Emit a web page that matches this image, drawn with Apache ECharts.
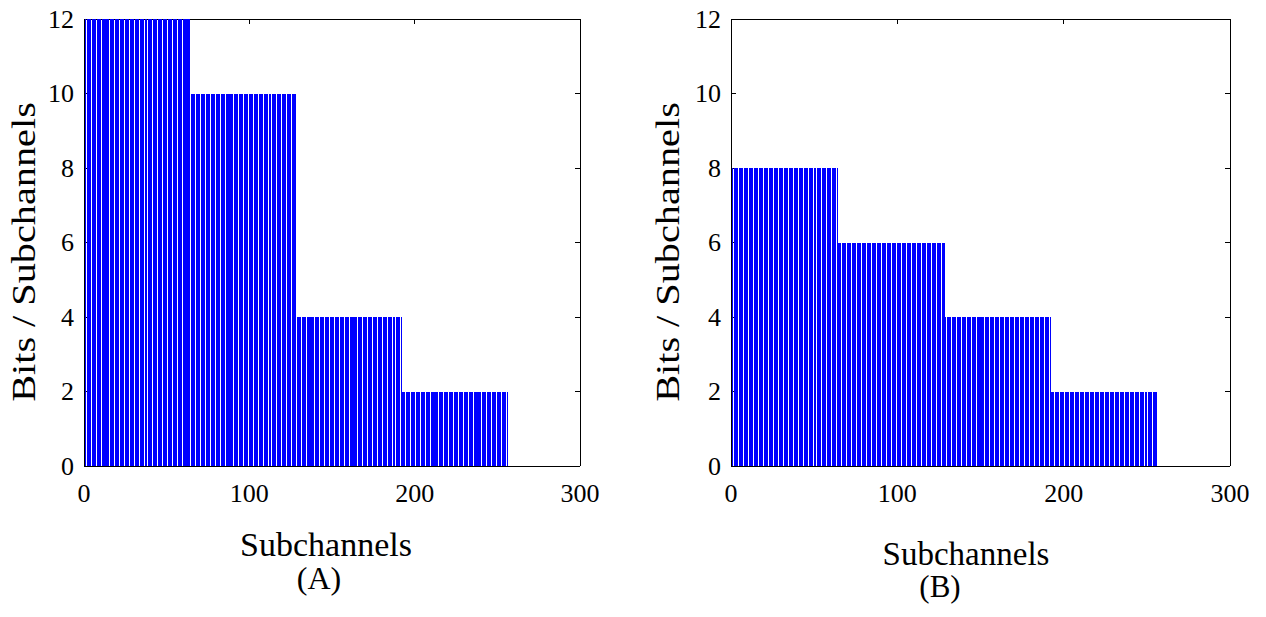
<!DOCTYPE html>
<html>
<head>
<meta charset="utf-8">
<style>
  html, body { margin: 0; padding: 0; background: #fff; }
  #chart { width: 1266px; height: 617px; }
  /* hard pixel edges for the bars and axes */
  #chart path { shape-rendering: crispEdges; }
  #chart text { font-family: 'Liberation Serif', serif !important; }
</style>
<script src="https://cdn.jsdelivr.net/npm/echarts@6/dist/echarts.min.js"></script>
</head>
<body>
<div id="chart"></div>
<script>
// Bit loading per band of subchannels (64 subchannels in each band)
const bandBitsA = [12, 10, 4, 2];
const bandBitsB = [8, 6, 4, 2];
const subchannelsPerBand = 64;

// Axis ticks
const xTicks = [0, 100, 200, 300];
const yTicks = [0, 2, 4, 6, 8, 10, 12];

// Text
const xTitle = 'Subchannels';
const yTitle = 'Bits / Subchannels';
const panelTags = ['(A)', '(B)'];

function expandBands(bands) {
  const out = [];
  let k = 1;
  bands.forEach(function (bits) {
    for (let j = 0; j < subchannelsPerBand; j++) {
      out.push([k, bits]);
      k++;
    }
  });
  return out;
}

const dataA = expandBands(bandBitsA);
const dataB = expandBands(bandBitsB);

const FONT_NAME = 'Liberation Serif';
const xMin = xTicks[0], xMax = xTicks[xTicks.length - 1], xStep = xTicks[1] - xTicks[0];
const yMin = yTicks[0], yMax = yTicks[yTicks.length - 1], yStep = yTicks[1] - yTicks[0];

const grids = [
  { left: 84, right: 686, top: 19, bottom: 151 },
  { left: 731, right: 36, top: 19, bottom: 151 }
];

function xAxisFor(gi, pos) {
  return {
    type: 'value', gridIndex: gi, position: pos,
    min: xMin, max: xMax, interval: xStep,
    axisLine: { show: true, onZero: false, lineStyle: { color: '#000', width: 1 } },
    axisTick: { show: true, inside: true, length: 5, lineStyle: { color: '#000' } },
    axisLabel: {
      show: pos === 'bottom', margin: 14,
      fontFamily: FONT_NAME, fontSize: 26, color: '#000'
    },
    splitLine: { show: false }
  };
}
function yAxisFor(gi, pos) {
  return {
    type: 'value', gridIndex: gi, position: pos,
    min: yMin, max: yMax, interval: yStep,
    axisLine: { show: true, onZero: false, lineStyle: { color: '#000', width: 1 } },
    axisTick: { show: true, inside: true, length: 5, lineStyle: { color: '#000' } },
    axisLabel: {
      show: pos === 'left', margin: 10,
      fontFamily: FONT_NAME, fontSize: 26, color: '#000'
    },
    splitLine: { show: false }
  };
}

function barSeries(idx, data) {
  return {
    type: 'bar', xAxisIndex: idx * 2, yAxisIndex: idx * 2,
    data: data, barWidth: '80%',
    itemStyle: { color: '#0000ff' },
    silent: true, animation: false
  };
}

function yTitleText(x, y) {
  return {
    type: 'text', x: x, y: y, rotation: Math.PI / 2, scaleX: 1.22,
    style: {
      text: yTitle, fontFamily: FONT_NAME, fontSize: 33, fill: '#000',
      align: 'center', verticalAlign: 'middle'
    },
    silent: true
  };
}

// x title with the panel tag on a second line beneath it
function xTitleBlock(tag, x, y, size, tagSize, lineH, tagShift) {
  return {
    type: 'text', x: x, y: y,
    style: {
      text: '{t|' + xTitle + '}\n{p|' + tag + '}',
      fill: '#000', align: 'center', verticalAlign: 'middle',
      rich: {
        t: { fontFamily: FONT_NAME, fontSize: size, lineHeight: lineH, fill: '#000' },
        p: { fontFamily: FONT_NAME, fontSize: tagSize, lineHeight: lineH, fill: '#000',
             padding: [0, tagShift, 0, 0] }
      }
    },
    silent: true
  };
}

const chart = echarts.init(document.getElementById('chart'), null, { renderer: 'svg' });
chart.setOption({
  animation: false,
  backgroundColor: '#fff',
  textStyle: { fontFamily: FONT_NAME },
  grid: grids,
  xAxis: [xAxisFor(0, 'bottom'), xAxisFor(0, 'top'), xAxisFor(1, 'bottom'), xAxisFor(1, 'top')],
  yAxis: [yAxisFor(0, 'left'), yAxisFor(0, 'right'), yAxisFor(1, 'left'), yAxisFor(1, 'right')],
  series: [barSeries(0, dataA), barSeries(1, dataB)],
  graphic: [
    yTitleText(24, 252),
    yTitleText(668, 252),
    xTitleBlock(panelTags[0], 326, 561, 34, 32, 33, 14),
    xTitleBlock(panelTags[1], 966, 570, 33, 31, 33, 52)
  ]
});
</script>
</body>
</html>
